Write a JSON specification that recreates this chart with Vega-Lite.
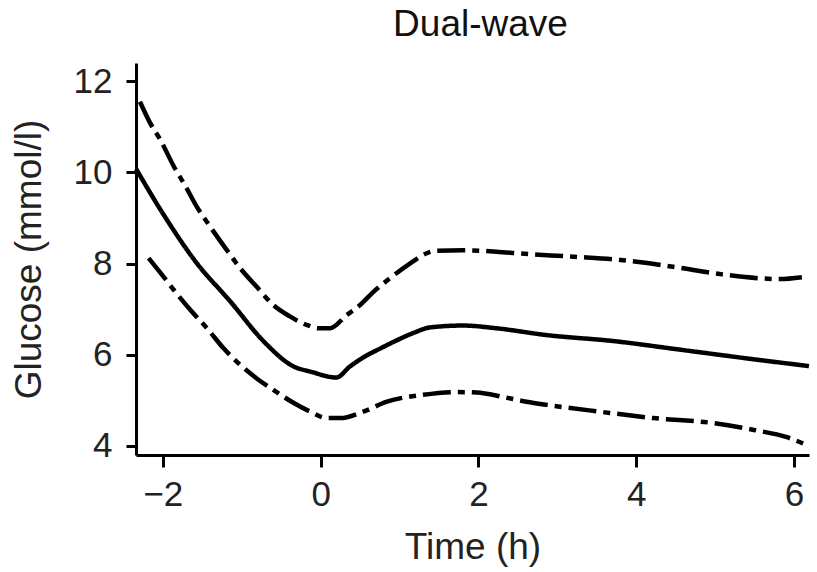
{
  "$schema": "https://vega.github.io/schema/vega-lite/v6.json",
  "width": 673,
  "height": 392,
  "autosize": {"type": "none"},
  "padding": {"left": 136, "top": 63, "right": 8, "bottom": 117},
  "background": "white",
  "title": {"text": "Dual-wave", "fontSize": 37, "font": "Liberation Sans", "fontWeight": "normal", "color": "#111", "offset": 19, "anchor": "middle", "dx": 8},
  "config": {
    "view": {"stroke": null},
    "axis": {
      "grid": false,
      "domainColor": "#000",
      "domainWidth": 3,
      "tickColor": "#000",
      "tickWidth": 3,
      "labelFont": "Liberation Sans",
      "titleFont": "Liberation Sans",
      "labelFontSize": 35,
      "titleFontSize": 37,
      "titleFontWeight": "normal",
      "labelColor": "#222",
      "titleColor": "#222"
    }
  },
  "data": {
    "values": [
      {"series": "mean", "time": -2.34, "glucose": 10.08},
      {"series": "mean", "time": -2.0, "glucose": 9.1},
      {"series": "mean", "time": -1.57, "glucose": 8.01},
      {"series": "mean", "time": -1.15, "glucose": 7.18},
      {"series": "mean", "time": -0.72, "glucose": 6.29},
      {"series": "mean", "time": -0.34, "glucose": 5.74},
      {"series": "mean", "time": -0.13, "glucose": 5.63},
      {"series": "mean", "time": 0.2, "glucose": 5.5},
      {"series": "mean", "time": 0.37, "glucose": 5.74},
      {"series": "mean", "time": 0.54, "glucose": 5.94},
      {"series": "mean", "time": 0.76, "glucose": 6.14},
      {"series": "mean", "time": 0.97, "glucose": 6.32},
      {"series": "mean", "time": 1.18, "glucose": 6.48},
      {"series": "mean", "time": 1.39, "glucose": 6.6},
      {"series": "mean", "time": 1.81, "glucose": 6.64},
      {"series": "mean", "time": 2.23, "glucose": 6.58},
      {"series": "mean", "time": 2.87, "glucose": 6.43},
      {"series": "mean", "time": 3.71, "glucose": 6.3},
      {"series": "mean", "time": 4.56, "glucose": 6.11},
      {"series": "mean", "time": 5.4, "glucose": 5.92},
      {"series": "mean", "time": 6.19, "glucose": 5.75},

      {"series": "upper", "time": -2.29, "glucose": 11.55},
      {"series": "upper", "time": -2.16, "glucose": 11.08},
      {"series": "upper", "time": -2.03, "glucose": 10.71},
      {"series": "upper", "time": -1.86, "glucose": 10.13},
      {"series": "upper", "time": -1.72, "glucose": 9.72},
      {"series": "upper", "time": -1.57, "glucose": 9.25},
      {"series": "upper", "time": -1.4, "glucose": 8.81},
      {"series": "upper", "time": -1.19, "glucose": 8.3},
      {"series": "upper", "time": -1.02, "glucose": 7.9},
      {"series": "upper", "time": -0.81, "glucose": 7.49},
      {"series": "upper", "time": -0.6, "glucose": 7.09},
      {"series": "upper", "time": -0.39, "glucose": 6.84},
      {"series": "upper", "time": -0.17, "glucose": 6.65},
      {"series": "upper", "time": -0.03, "glucose": 6.58},
      {"series": "upper", "time": 0.12, "glucose": 6.58},
      {"series": "upper", "time": 0.33, "glucose": 6.87},
      {"series": "upper", "time": 0.5, "glucose": 7.09},
      {"series": "upper", "time": 0.67, "glucose": 7.38},
      {"series": "upper", "time": 0.88, "glucose": 7.68},
      {"series": "upper", "time": 1.14, "glucose": 8.01},
      {"series": "upper", "time": 1.3, "glucose": 8.19},
      {"series": "upper", "time": 1.47, "glucose": 8.28},
      {"series": "upper", "time": 1.81, "glucose": 8.29},
      {"series": "upper", "time": 2.23, "glucose": 8.26},
      {"series": "upper", "time": 2.53, "glucose": 8.22},
      {"series": "upper", "time": 3.21, "glucose": 8.15},
      {"series": "upper", "time": 3.8, "glucose": 8.08},
      {"series": "upper", "time": 4.47, "glucose": 7.93},
      {"series": "upper", "time": 5.06, "glucose": 7.77},
      {"series": "upper", "time": 5.82, "glucose": 7.66},
      {"series": "upper", "time": 6.1, "glucose": 7.7},

      {"series": "lower", "time": -2.18, "glucose": 8.12},
      {"series": "lower", "time": -1.99, "glucose": 7.71},
      {"series": "lower", "time": -1.86, "glucose": 7.42},
      {"series": "lower", "time": -1.65, "glucose": 6.98},
      {"series": "lower", "time": -1.44, "glucose": 6.58},
      {"series": "lower", "time": -1.23, "glucose": 6.14},
      {"series": "lower", "time": -1.02, "glucose": 5.78},
      {"series": "lower", "time": -0.81, "glucose": 5.48},
      {"series": "lower", "time": -0.6, "glucose": 5.23},
      {"series": "lower", "time": -0.34, "glucose": 4.94},
      {"series": "lower", "time": -0.13, "glucose": 4.75},
      {"series": "lower", "time": 0.08, "glucose": 4.61},
      {"series": "lower", "time": 0.25, "glucose": 4.61},
      {"series": "lower", "time": 0.54, "glucose": 4.75},
      {"series": "lower", "time": 0.84, "glucose": 4.97},
      {"series": "lower", "time": 1.3, "glucose": 5.12},
      {"series": "lower", "time": 1.73, "glucose": 5.18},
      {"series": "lower", "time": 1.98, "glucose": 5.17},
      {"series": "lower", "time": 2.32, "glucose": 5.07},
      {"series": "lower", "time": 2.61, "glucose": 4.97},
      {"series": "lower", "time": 2.87, "glucose": 4.9},
      {"series": "lower", "time": 3.54, "glucose": 4.75},
      {"series": "lower", "time": 4.22, "glucose": 4.61},
      {"series": "lower", "time": 4.98, "glucose": 4.5},
      {"series": "lower", "time": 5.49, "glucose": 4.35},
      {"series": "lower", "time": 5.91, "glucose": 4.19},
      {"series": "lower", "time": 6.16, "glucose": 4.02}
    ]
  },
  "mark": {"type": "line", "interpolate": "monotone", "color": "#000", "strokeWidth": 4.5, "strokeCap": "butt"},
  "encoding": {
    "x": {
      "field": "time",
      "type": "quantitative",
      "title": "Time (h)",
      "scale": {"domain": [-2.34, 6.19], "nice": false, "zero": false},
      "axis": {"values": [-2, 0, 2, 4, 6], "tickSize": 12, "labelPadding": 10, "titlePadding": 17, "format": "d"}
    },
    "y": {
      "field": "glucose",
      "type": "quantitative",
      "title": "Glucose (mmol/l)",
      "scale": {"domain": [3.8, 12.4], "nice": false, "zero": false},
      "axis": {"values": [4, 6, 8, 10, 12], "tickSize": 10, "labelPadding": 14, "titlePadding": 25, "format": "d"}
    },
    "detail": {"field": "series"},
    "strokeDash": {
      "field": "series",
      "type": "nominal",
      "scale": {"domain": ["mean", "upper", "lower"], "range": [[1, 0], [28, 7, 7, 7], [28, 7, 7, 7]]},
      "legend": null
    }
  }
}
